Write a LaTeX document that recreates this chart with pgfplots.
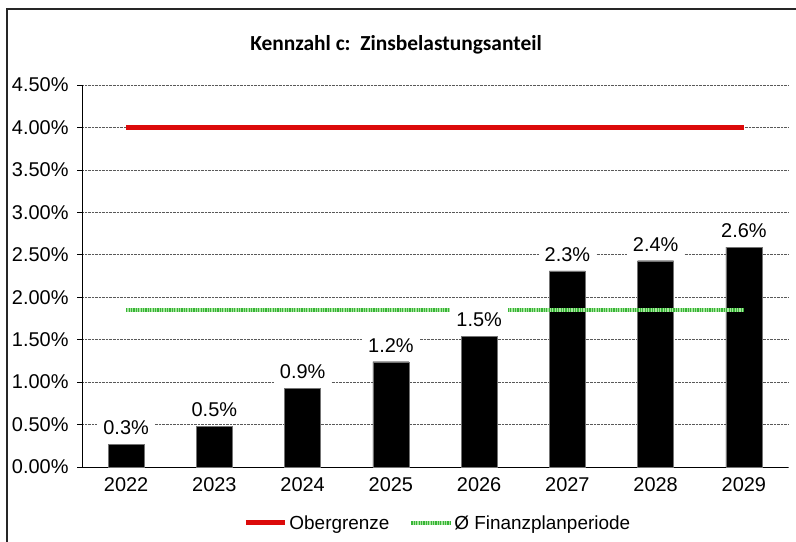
\documentclass[border=0pt]{standalone}
\usepackage{fontspec}
\setmainfont{Liberation Sans}
\newfontfamily\titlefont{Carlito}
\usepackage{pgfplots}
\pgfplotsset{compat=1.18}
\definecolor{redline}{RGB}{220,10,10}
\definecolor{greenlight}{RGB}{165,228,155}
\definecolor{greendark}{RGB}{55,180,55}
\newcommand{\lblfont}{\fontsize{20}{23}\selectfont}
\newcommand{\legfont}{\fontsize{19}{22}\selectfont}
\begin{document}
\begin{tikzpicture}[x=1bp,y=1bp]
\path[use as bounding box] (0,0) rectangle (796,542);
\draw[line width=1.5bp, black!85] (7,0) -- (7,533) -- (796,533);
\node[font=\titlefont\bfseries\fontsize{21.5}{24}\selectfont] at (396,497) {Kennzahl c:\ \ Zinsbelastungsanteil};
\begin{axis}[
  at={(82bp,75bp)}, anchor=south west,
  scale only axis, width=706bp, height=382bp,
  xmin=-0.5, xmax=7.5, ymin=0, ymax=4.5,
  xtick={0,1,2,3,4,5,6,7},
  xticklabels={2022,2023,2024,2025,2026,2027,2028,2029},
  ytick={0,0.5,1,1.5,2,2.5,3,3.5,4,4.5},
  yticklabel={\pgfmathprintnumber[fixed,fixed zerofill,precision=2,assume math mode=true]{\tick}\%},
  axis lines=left, axis line style={-, black, line width=0.8bp},
  tick align=outside, major tick length=5bp,
  major x tick style={draw=none},
  major y tick style={black, line width=0.6bp},
  ymajorgrids, grid style={densely dotted, black!65, line width=0.7bp},
  tick label style={font=\lblfont},
  yticklabel style={xshift=-5bp},
  xticklabel style={yshift=-2bp},
  /pgf/number format/assume math mode=true,
  legend columns=2,
  legend style={at={(0.504,-0.1466)}, anchor=center, draw=none, font=\legfont,
    /tikz/every even column/.append style={column sep=18bp}},
  legend image code/.code={\draw[#1] (0bp,0bp) -- (39bp,0bp);},
  clip=false,
]
\addplot[ybar, bar width=36bp, bar shift=0pt, fill=black, draw=black!55, forget plot]
  coordinates {(0,0.27) (1,0.48) (2,0.93) (3,1.24) (4,1.54) (5,2.31) (6,2.43) (7,2.59)};
\addplot[redline, line width=5bp] coordinates {(0,4.0) (7,4.0)};
\addlegendentry{Obergrenze}
\addplot[greenlight, line width=4bp, postaction={draw=greendark, dash pattern=on 1.2bp off 1.2bp}]
  coordinates {(0,1.85) (7,1.85)};
\addlegendentry{Ø Finanzplanperiode}
\addplot[ybar, bar width=36bp, bar shift=0pt, draw=none, fill=none, forget plot,
  nodes near coords={\pgfmathprintnumber[fixed,fixed zerofill,precision=1,assume math mode=true]{\pgfplotspointmeta}\%},
  every node near coord/.style={fill=white, inner xsep=6bp, inner ysep=5.5bp, yshift=3.5bp, font=\lblfont, text=black}]
  coordinates {(0,0.27) (1,0.48) (2,0.93) (3,1.24) (4,1.54) (5,2.31) (6,2.43) (7,2.59)};
\end{axis}
\end{tikzpicture}
\end{document}
